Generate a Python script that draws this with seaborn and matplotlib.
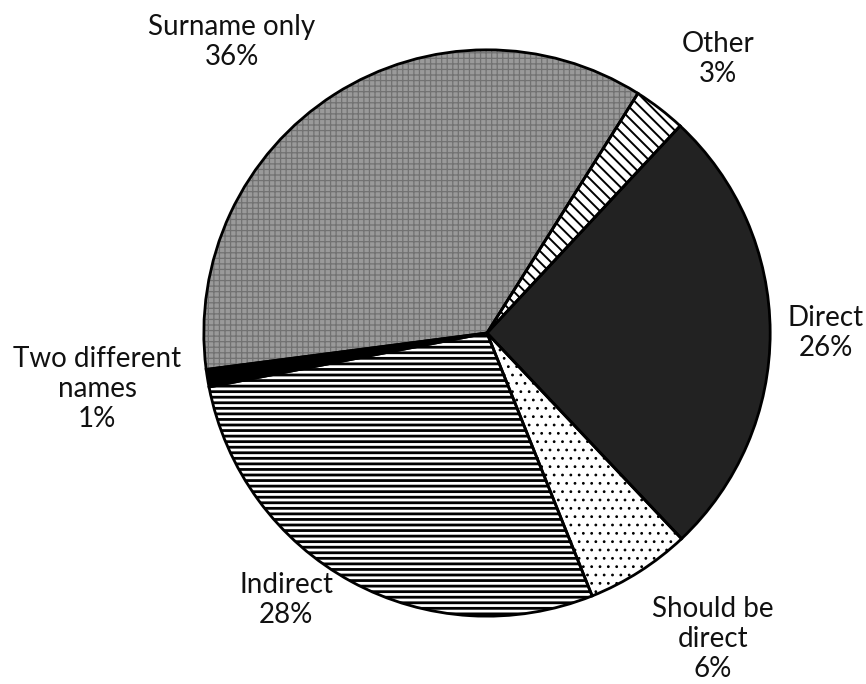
import matplotlib
matplotlib.use("Agg")
import matplotlib.pyplot as plt
import seaborn as sns

# Name forms used in citations (share of all cases)
categories = ["Other", "Direct", "Should be\ndirect", "Indirect",
              "Two different\nnames", "Surname only"]
shares = [3, 26, 6, 28, 1, 36]

sns.set_theme(style="white")
plt.rcParams["font.family"] = ["Lato", "DejaVu Sans"]
plt.rcParams["hatch.linewidth"] = 2.0

W, H = 866, 684
fig = plt.figure(figsize=(W / 100, H / 100), dpi=100)

# pie placed so its centre sits at (487, 333) px with a 286 px radius
cx, cy, r = 487, 333, 286
ax = fig.add_axes([(cx - r) / W, (H - cy - r) / H, 2 * r / W, 2 * r / H])

faces = ["white", "#222222", "white", "white", "black", "#9a9a9a"]
hatch_cols = ["black", "#222222", "black", "black", "black", "#727272"]
hatches = ["\\\\\\", None, "..", "---", None, "+++"]
hatch_lw = [1.4, 1.0, 0.8, 2.0, 1.0, 0.9]

wedges, _ = ax.pie(shares, startangle=57.8, counterclock=False, radius=1,
                   colors=faces, wedgeprops=dict(linewidth=0))
for w, hc, h, hl in zip(wedges, hatch_cols, hatches, hatch_lw):
    w.set_edgecolor(hc)
    w.set_linewidth(0)
    if h:
        w.set_hatch(h)
        if hasattr(w, "set_hatch_linewidth"):
            w.set_hatch_linewidth(hl)
        else:
            w._hatch_linewidth = hl

# black outlines on top
ax.pie(shares, startangle=57.8, counterclock=False, radius=1,
       colors=["none"] * len(shares),
       wedgeprops=dict(linewidth=2.0, edgecolor="black", fill=False))
ax.set_xlim(-1.01, 1.01)
ax.set_ylim(-1.01, 1.01)
ax.set_aspect("equal")
ax.axis("off")

# label centres in pixels
label_pos = {
    "Other": (718, 59),
    "Direct": (826, 333),
    "Should be\ndirect": (713, 639),
    "Indirect": (286, 600),
    "Two different\nnames": (97, 389),
    "Surname only": (232, 42),
}
for cat, val in zip(categories, shares):
    x, y = label_pos[cat]
    fig.text(x / W, 1 - y / H, f"{cat}\n{val}%", ha="center", va="center",
             fontsize=20, color="#111111", linespacing=1.2)

fig.savefig("out.png", dpi=100)
